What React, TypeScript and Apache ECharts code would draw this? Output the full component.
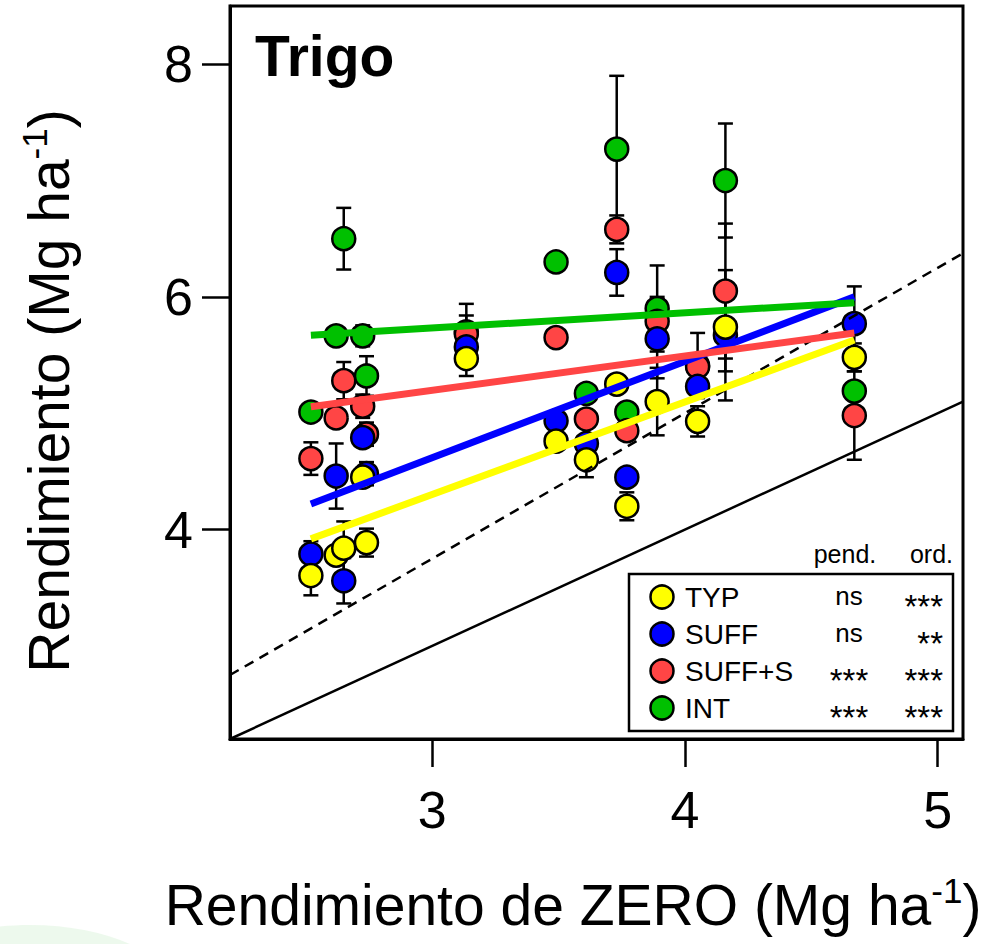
import React, { useEffect, useRef } from "react";
import * as echarts from "echarts";

// Site yields under the ZERO treatment (x, Mg ha-1)
const sites = [2.52, 2.62, 2.65, 2.725, 2.74, 3.135, 3.49, 3.61, 3.73, 3.77, 3.89, 4.05, 4.16, 4.67];

// Treatment yields per site (Mg ha-1) and their standard errors
const typValues = [3.605, 3.78, 3.84, 4.45, 3.888, 5.47, 4.76, 4.6, 5.25, 4.2, 5.1, 4.93, 5.74, 5.48];
const typErrors = [0.17, 0.05, 0.23, 0.08, 0.12, 0.15, 0.05, 0.15, 0.05, 0.12, 0.29, 0.13, 0.38, 0.12];

const suffValues = [3.79, 4.46, 3.56, 4.79, 4.48, 5.57, 4.935, 4.74, 6.21, 4.45, 5.64, 5.23, 5.67, 5.77];
const suffErrors = [0.11, 0.28, 0.195, 0.05, 0.1, 0.05, 0.05, 0.05, 0.2, 0.05, 0.34, 0.05, 0.56, 0.32];

const suffSValues = [4.61, 4.96, 5.28, 5.06, 4.82, 5.68, 5.65, 4.95, 6.58, 4.85, 5.79, 5.4, 6.05, 4.98];
const suffSErrors = [0.14, 0.05, 0.16, 0.1, 0.1, 0.16, 0.03, 0.05, 0.12, 0.05, 0.21, 0.05, 0.58, 0.38];

const intValues = [5.01, 5.665, 6.5, 5.665, 5.32, 5.7, 6.3, 5.17, 7.27, 5.01, 5.9, 5.41, 7.0, 5.19];
const intErrors = [0.05, 0.05, 0.265, 0.09, 0.17, 0.24, 0.03, 0.05, 0.63, 0.05, 0.37, 0.28, 0.49, 0.05];

// Fitted regression lines: end points over the range of sites
const fitX = [2.52, 4.67];
const typFit = [3.92, 5.63];
const suffFit = [4.22, 6.0];
const suffSFit = [5.056, 5.69];
const intFit = [5.67, 5.95];

// Reference lines: 1:1 and +25 %
const refX = [2.2, 5.1];
const refRatios = [1, 1.25];

// Axis ticks
const xTicks = [3, 4, 5];
const yTicks = [4, 6, 8];

// Legend table
const legendNames = ["TYP", "SUFF", "SUFF+S", "INT"];
const slopeSig = ["ns", "ns", "***", "***"];
const interceptSig = ["***", "**", "***", "***"];

const COLORS: Record<string, string> = {
  TYP: "#ffff00",
  SUFF: "#0000ff",
  "SUFF+S": "#ff4545",
  INT: "#00c000",
};

const FF = '"Liberation Sans", Arial, Helvetica, sans-serif';

const pairs = (xs: number[], ys: number[]) => xs.map((x, i) => [x, ys[i]]);
const triples = (xs: number[], ys: number[], es: number[]) => xs.map((x, i) => [x, ys[i], es[i]]);

function errorSeries(name: string, values: number[], errors: number[]) {
  return {
    name: name + "-err",
    type: "custom",
    silent: true,
    encode: { x: 0, y: 1 },
    data: triples(sites, values, errors),
    renderItem: (_params: any, api: any) => {
      const x = api.value(0);
      const y = api.value(1);
      const e = api.value(2);
      const top = api.coord([x, y + e]);
      const bot = api.coord([x, y - e]);
      const w = 7.5;
      const style = { stroke: "#000", lineWidth: 2.5 };
      return {
        type: "group",
        children: [
          { type: "line", shape: { x1: top[0], y1: top[1], x2: bot[0], y2: bot[1] }, style },
          { type: "line", shape: { x1: top[0] - w, y1: top[1], x2: top[0] + w, y2: top[1] }, style },
          { type: "line", shape: { x1: bot[0] - w, y1: bot[1], x2: bot[0] + w, y2: bot[1] }, style },
        ],
      };
    },
  };
}

function pointSeries(name: string, values: number[]) {
  return {
    name,
    type: "scatter",
    symbol: "circle",
    symbolSize: 23,
    data: pairs(sites, values),
    itemStyle: { color: COLORS[name], borderColor: "#000", borderWidth: 2.5, opacity: 1 },
  };
}

function fitSeries(name: string, ends: number[]) {
  return {
    name: name + "-fit",
    type: "line",
    symbol: "none",
    silent: true,
    data: pairs(fitX, ends),
    lineStyle: { color: COLORS[name], width: 7, cap: "butt" },
  };
}

export default function App() {
  const ref = useRef<HTMLDivElement>(null);

  useEffect(() => {
    if (!ref.current) return;
    const chart = echarts.init(ref.current, undefined, { renderer: "svg" });

    const refSeries = refRatios.map((k, i) => ({
      name: "ref-" + i,
      type: "line",
      symbol: "none",
      silent: true,
      data: refX.map((x) => [x, x * k]),
      lineStyle: { color: "#000", width: 2.5, type: i === 0 ? "solid" : [10, 7] },
    }));

    const rowY = [597, 634, 671, 708];
    const legendGraphics: any[] = [
      {
        type: "rect",
        z: 100,
        shape: { x: 629, y: 574, width: 324, height: 157 },
        style: { fill: "#fff", stroke: "#000", lineWidth: 2.5 },
      },
      {
        type: "text",
        z: 101,
        x: 845,
        y: 554,
        style: { text: "pend.", fontSize: 25, fontFamily: FF, fill: "#000", textAlign: "center", textVerticalAlign: "middle" },
      },
      {
        type: "text",
        z: 101,
        x: 953,
        y: 554,
        style: { text: "ord.", fontSize: 25, fontFamily: FF, fill: "#000", textAlign: "right", textVerticalAlign: "middle" },
      },
    ];
    legendNames.forEach((name, i) => {
      const cy = rowY[i];
      legendGraphics.push(
        {
          type: "circle",
          z: 101,
          shape: { cx: 662, cy, r: 11.5 },
          style: { fill: COLORS[name], stroke: "#000", lineWidth: 2.5 },
        },
        {
          type: "text",
          z: 101,
          x: 685,
          y: cy,
          style: {
            text: name,
            fontSize: 28,
            lineHeight: 30,
            fontFamily: FF,
            fill: "#000",
            textAlign: "left",
            textVerticalAlign: "middle",
          },
        }
      );
      const cols: [string, number, string][] = [
        [slopeSig[i], 849, "center"],
        [interceptSig[i], 943, "right"],
      ];
      cols.forEach(([txt, x, align]) => {
        const star = txt.includes("*");
        legendGraphics.push({
          type: "text",
          z: 101,
          x,
          y: star ? cy + 9 : cy - 1,
          style: {
            text: txt,
            fontSize: star ? 33 : 26,
            lineHeight: star ? 24 : 28,
            fontFamily: FF,
            fill: "#000",
            textAlign: align,
            textVerticalAlign: "middle",
          },
        });
      });
    });

    const titleRich = {
      a: { fontSize: 57, fontFamily: FF, fill: "#000", lineHeight: 64 },
      s: { fontSize: 35, fontFamily: FF, fill: "#000", lineHeight: 34, verticalAlign: "top" },
    };

    chart.setOption({
      animation: false,
      backgroundColor: "#fff",
      grid: {
        left: 230,
        top: 6,
        width: 733,
        height: 733,
        show: true,
        borderColor: "#000",
        borderWidth: 3,
        containLabel: false,
      },
      xAxis: {
        type: "value",
        min: 2.2,
        max: 5.1,
        splitLine: { show: false },
        axisLine: { show: true, onZero: false, lineStyle: { color: "#000", width: 3 } },
        axisTick: { show: true, inside: false, length: 28, customValues: xTicks, lineStyle: { color: "#000", width: 2.5 } },
        axisLabel: {
          customValues: xTicks,
          margin: 71,
          verticalAlign: "middle",
          fontSize: 52,
          fontFamily: FF,
          color: "#000",
        },
      },
      yAxis: {
        type: "value",
        min: 2.2,
        max: 8.5,
        splitLine: { show: false },
        axisLine: { show: true, onZero: false, lineStyle: { color: "#000", width: 3 } },
        axisTick: { show: true, inside: false, length: 28, customValues: yTicks, lineStyle: { color: "#000", width: 2.5 } },
        axisLabel: {
          customValues: yTicks,
          margin: 37,
          fontSize: 52,
          fontFamily: FF,
          color: "#000",
        },
      },
      series: [
        ...refSeries,
        errorSeries("INT", intValues, intErrors),
        pointSeries("INT", intValues),
        errorSeries("SUFF+S", suffSValues, suffSErrors),
        pointSeries("SUFF+S", suffSValues),
        errorSeries("SUFF", suffValues, suffErrors),
        pointSeries("SUFF", suffValues),
        errorSeries("TYP", typValues, typErrors),
        pointSeries("TYP", typValues),
        fitSeries("TYP", typFit),
        fitSeries("SUFF", suffFit),
        fitSeries("SUFF+S", suffSFit),
        fitSeries("INT", intFit),
      ],
      graphic: [
        {
          type: "ellipse",
          z: 0,
          silent: true,
          shape: { cx: 30, cy: 1000, rx: 150, ry: 75 },
          style: { fill: "rgba(196, 236, 196, 0.3)" },
        },
        {
          type: "text",
          z: 100,
          x: 255,
          y: 56,
          style: {
            text: "Trigo",
            fontSize: 57,
            fontWeight: "bold",
            fontFamily: FF,
            fill: "#000",
            textAlign: "left",
            textVerticalAlign: "middle",
          },
        },
        {
          type: "text",
          z: 100,
          x: 573,
          y: 905,
          style: {
            text: "{a|Rendimiento de ZERO (Mg ha}{s|-1}{a|)}",
            rich: titleRich,
            textAlign: "center",
            textVerticalAlign: "middle",
          },
        },
        {
          type: "text",
          z: 100,
          x: 49,
          y: 391,
          rotation: Math.PI / 2,
          style: {
            text: "{a|Rendimiento (Mg ha}{s|-1}{a|)}",
            rich: titleRich,
            textAlign: "center",
            textVerticalAlign: "middle",
          },
        },
        ...legendGraphics,
      ],
    });

    return () => chart.dispose();
  }, []);

  return (
    <div
      ref={ref}
      style={{ position: "fixed", left: 0, top: 0, width: 997, height: 944, background: "#fff" }}
    />
  );
}
